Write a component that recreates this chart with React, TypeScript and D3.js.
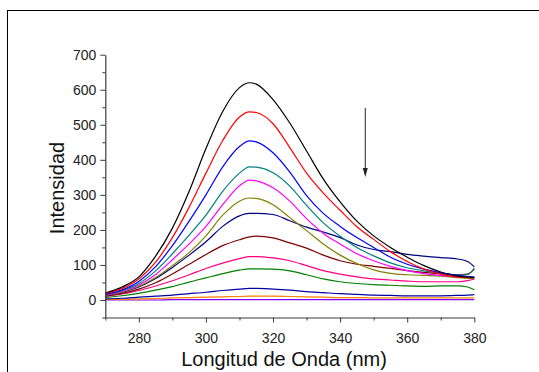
import React, { useEffect, useRef } from "react";
import * as d3 from "d3";

// wavelength grid (nm)
const wavelengths = [270, 275, 280, 285, 290, 295, 300, 305, 310, 313, 315, 320, 325, 330, 335, 340, 345, 350, 355, 360, 365, 370, 375, 378, 380];

const black = [20, 37, 66, 125, 205, 310, 432, 538, 606, 620, 616, 572, 505, 425, 345, 280, 225, 183, 150, 122, 98, 80, 68, 65, 64];
const red = [18, 33, 60, 108, 178, 265, 362, 455, 522, 537, 535, 503, 435, 362, 305, 256, 209, 173, 138, 110, 88, 74, 66, 64, 64];
const blue = [16, 29, 53, 95, 155, 225, 300, 380, 438, 454, 451, 420, 365, 298, 247, 210, 178, 150, 122, 102, 88, 78, 70, 67, 66];
const teal = [15, 27, 47, 83, 132, 185, 242, 310, 362, 380, 379, 363, 325, 270, 220, 182, 150, 126, 106, 92, 83, 77, 71, 72, 92];
const magenta = [14, 25, 43, 73, 115, 160, 210, 272, 326, 342, 340, 320, 282, 232, 190, 160, 132, 112, 96, 84, 75, 70, 66, 65, 63];
const olive = [13, 23, 39, 64, 98, 135, 183, 242, 282, 291, 290, 272, 235, 198, 160, 128, 104, 86, 76, 72, 70, 68, 64, 62, 60];
const navy = [12, 22, 37, 61, 93, 128, 166, 210, 240, 247, 247, 244, 226, 208, 194, 178, 157, 144, 138, 130, 125, 121, 117, 110, 95];
const maroon = [11, 19, 31, 49, 74, 102, 130, 155, 172, 180, 182, 177, 163, 148, 128, 112, 102, 96, 90, 84, 79, 75, 72, 74, 88];
const pink = [10, 17, 27, 40, 55, 72, 90, 105, 118, 124, 124, 120, 112, 98, 84, 74, 66, 60, 57, 54, 52, 52, 52, 55, 60];
const green = [7, 12, 19, 28, 38, 51, 63, 75, 85, 89, 89, 88, 83, 72, 60, 52, 47, 44, 42, 40, 39, 40, 40, 37, 29];
const navyLow = [3, 5, 8, 11, 14, 18, 22, 27, 31, 33, 33, 31, 28, 24, 21, 18, 16, 14, 13, 12, 12, 12, 13, 14, 15];
const orange = [1, 2, 3, 4, 6, 7, 8, 9, 10, 11, 11, 11, 10, 9, 8, 7, 7, 6, 6, 6, 6, 6, 6, 6, 6];
const purple = [0, 0, 0, 0, 1, 1, 1, 1, 1, 1, 1, 1, 1, 1, 1, 1, 1, 1, 1, 1, 1, 1, 1, 1, 1];

const yMajor = [0, 100, 200, 300, 400, 500, 600, 700];
const yMinor = [-50, 50, 150, 250, 350, 450, 550, 650];
const xMajor = [280, 300, 320, 340, 360, 380];
const xMinor = [270, 290, 310, 330, 350, 370];

const FONT = "Arial, 'Liberation Sans', sans-serif";

const App = () => {
    const ref = useRef(null);

    useEffect(() => {
        const svg = d3.select(ref.current);
        svg.selectAll("*").remove();

        const series = [
            { values: black, color: "#000000" },
            { values: red, color: "#ff0000" },
            { values: blue, color: "#0000ff" },
            { values: teal, color: "#008080" },
            { values: magenta, color: "#ff00ff" },
            { values: olive, color: "#808000" },
            { values: navy, color: "#000080" },
            { values: maroon, color: "#800000" },
            { values: pink, color: "#ff0080" },
            { values: green, color: "#008000" },
            { values: navyLow, color: "#0000a0" },
            { values: orange, color: "#ff8000" },
            { values: purple, color: "#8000ff" },
        ];

        const x = d3.scaleLinear().domain([270, 380]).range([105.3, 474.3]);
        const y = d3.scaleLinear().domain([-50, 700]).range([317.5, 54.7]);

        // outer frame
        svg.append("rect")
            .attr("x", 7.5)
            .attr("y", 10.5)
            .attr("width", 560)
            .attr("height", 400)
            .attr("fill", "none")
            .attr("stroke", "#000")
            .attr("stroke-width", 1);

        const line = d3.line()
            .x((d, i) => x(wavelengths[i]))
            .y(d => y(d))
            .curve(d3.curveMonotoneX);

        svg.append("g")
            .selectAll("path")
            .data(series.slice().reverse())
            .enter().append("path")
            .attr("d", d => line(d.values))
            .attr("fill", "none")
            .attr("stroke", d => d.color)
            .attr("stroke-width", 1.2);

        const axisColor = "#3a3a3a";

        // y axis
        const yAxis = svg.append("g")
            .attr("transform", `translate(${x(270)},0)`)
            .call(d3.axisLeft(y).tickValues(yMajor).tickSize(5).tickSizeOuter(0).tickPadding(4));
        svg.append("g")
            .attr("transform", `translate(${x(270)},0)`)
            .call(d3.axisLeft(y).tickValues(yMinor).tickSize(3).tickSizeOuter(0).tickFormat(() => ""))
            .select(".domain").remove();

        // x axis
        const xAxis = svg.append("g")
            .attr("transform", `translate(0,${y(-50)})`)
            .call(d3.axisBottom(x).tickValues(xMajor).tickSize(5).tickSizeOuter(0).tickPadding(11));
        svg.append("g")
            .attr("transform", `translate(0,${y(-50)})`)
            .call(d3.axisBottom(x).tickValues(xMinor).tickSize(3).tickSizeOuter(0).tickFormat(() => ""))
            .select(".domain").remove();

        [yAxis, xAxis].forEach(a => {
            a.selectAll("text")
                .attr("font-family", FONT)
                .attr("font-size", 14)
                .attr("fill", "#222");
        });
        svg.selectAll(".domain").attr("stroke", axisColor).attr("stroke-width", 1.2);
        svg.selectAll(".tick line").attr("stroke", axisColor).attr("stroke-width", 1);

        // axis titles
        svg.append("text")
            .attr("x", 284)
            .attr("y", 365.5)
            .attr("text-anchor", "middle")
            .attr("font-family", FONT)
            .attr("font-size", 20)
            .attr("fill", "#111")
            .text("Longitud de Onda (nm)");

        svg.append("text")
            .attr("transform", "translate(64,188) rotate(-90)")
            .attr("text-anchor", "middle")
            .attr("font-family", FONT)
            .attr("font-size", 20)
            .attr("fill", "#111")
            .text("Intensidad");

        // arrow
        const ax = x(347.5);
        svg.append("line")
            .attr("x1", ax).attr("x2", ax)
            .attr("y1", 108).attr("y2", 170)
            .attr("stroke", "#222")
            .attr("stroke-width", 1);
        svg.append("path")
            .attr("d", `M${ax - 2.5},168 L${ax + 2.5},168 L${ax},177 Z`)
            .attr("fill", "#222");
    }, []);

    return (
        <svg
            ref={ref}
            width={539}
            height={372}
            style={{ position: "absolute", left: 0, top: 0, background: "#fff" }}
        />
    );
};

export default App;
